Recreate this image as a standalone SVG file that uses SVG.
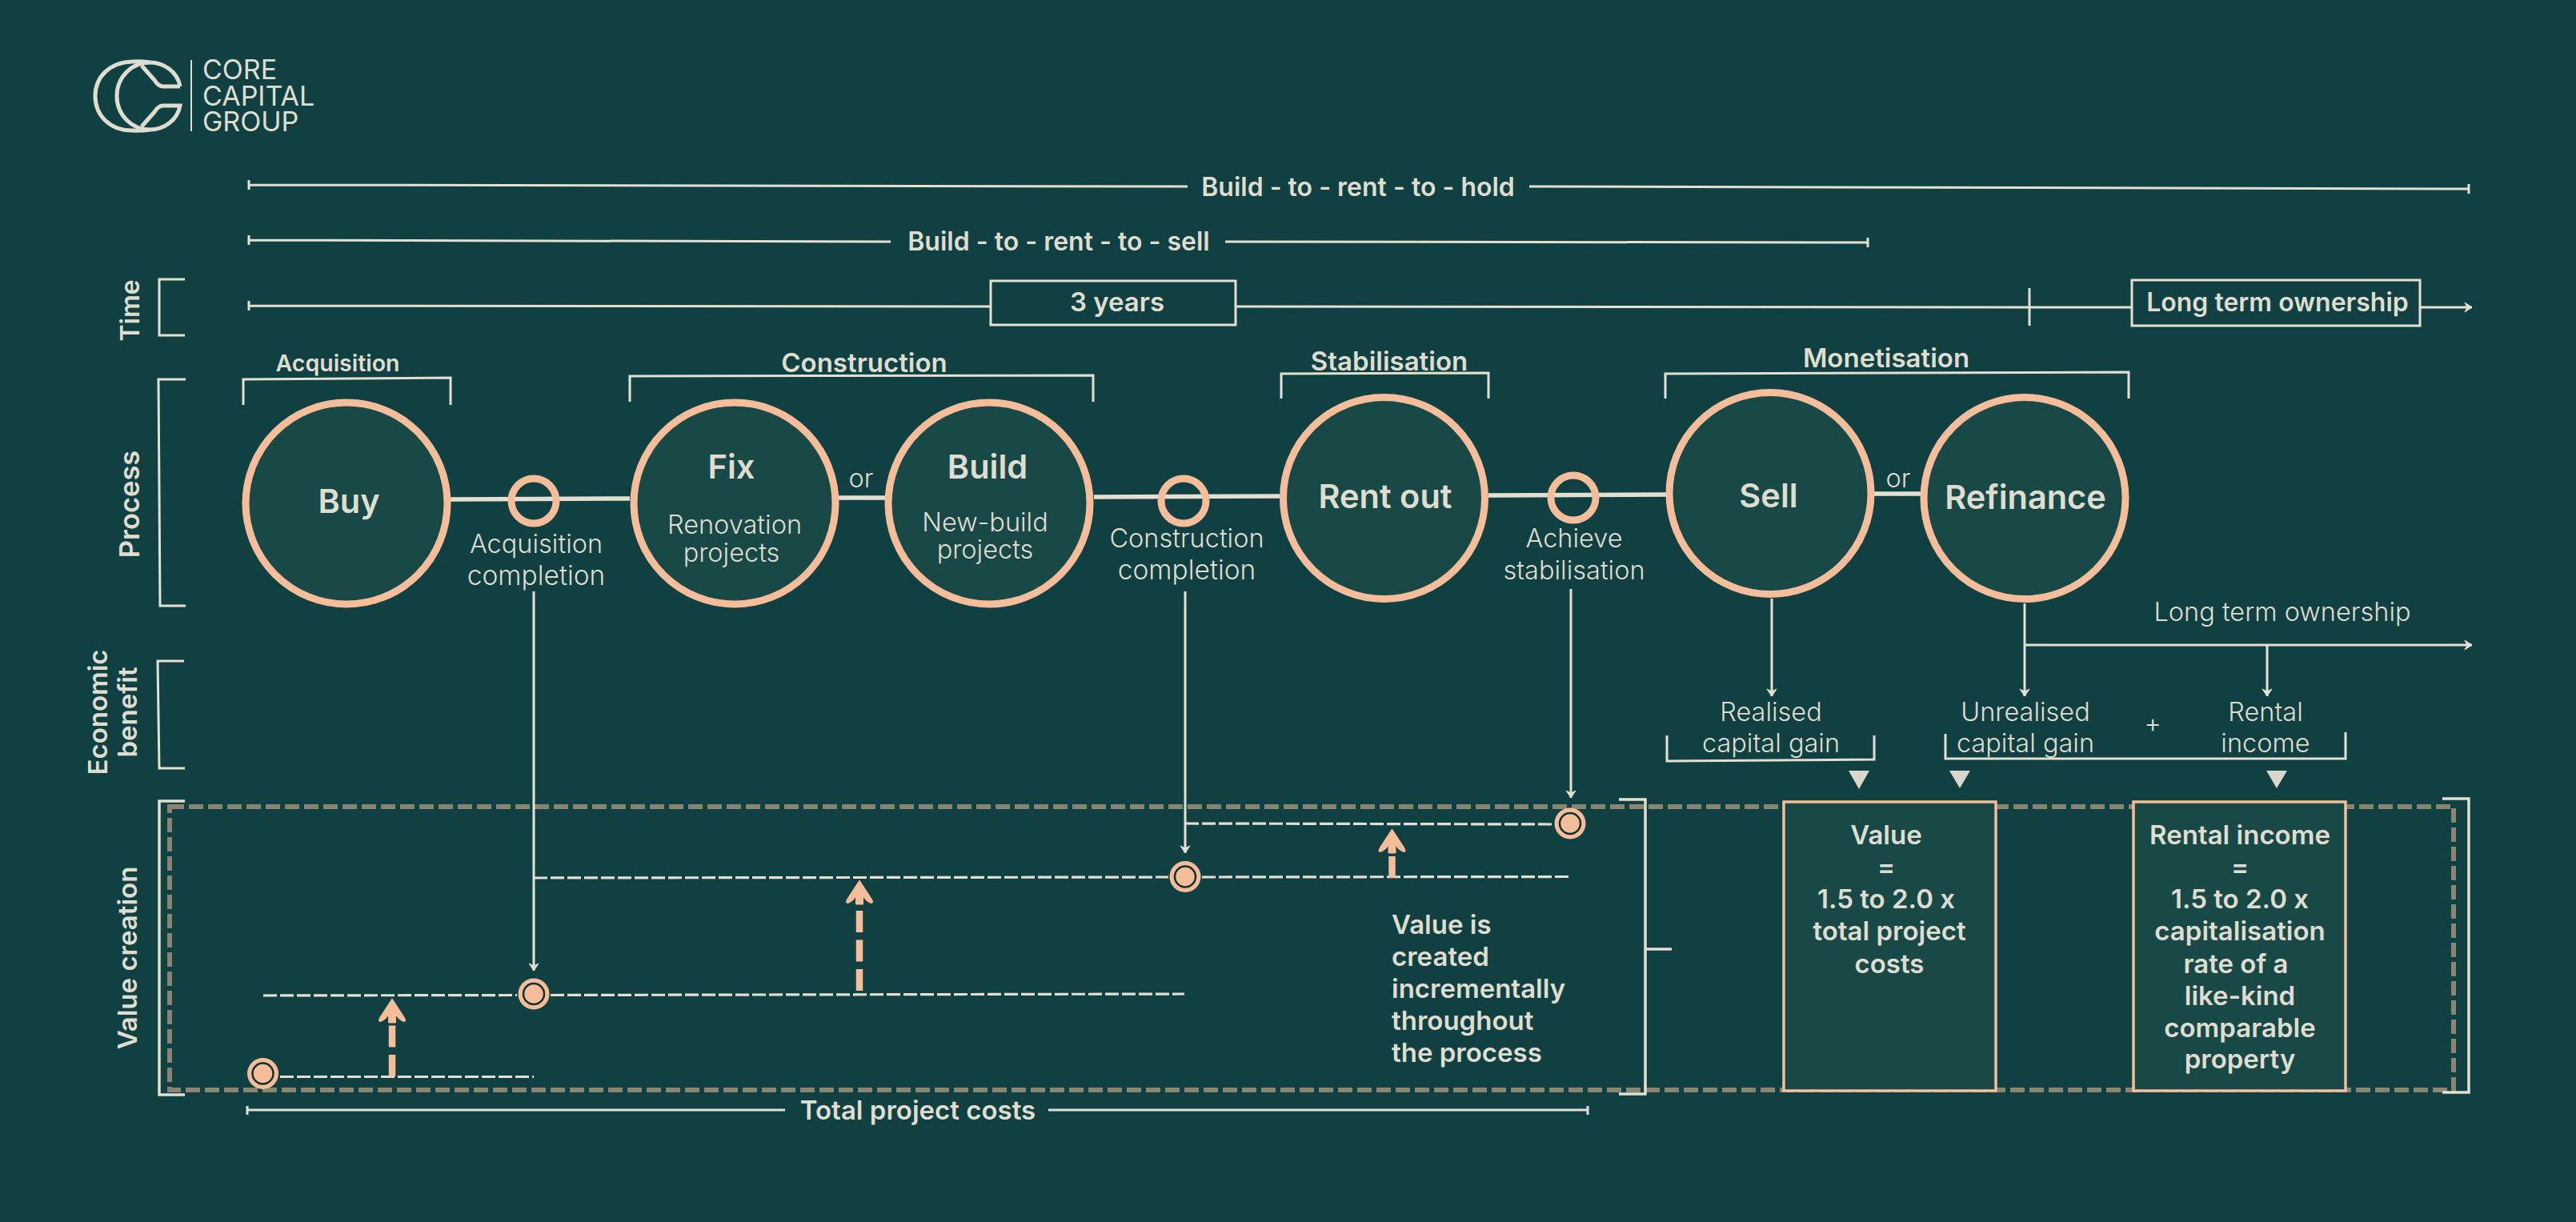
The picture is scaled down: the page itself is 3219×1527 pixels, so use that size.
<svg xmlns="http://www.w3.org/2000/svg" width="3219" height="1527" viewBox="0 0 3219 1527">
<style>
text{font-family:Inter,"Liberation Sans",sans-serif;fill:#dfddd0;text-anchor:middle}
.h{font-size:41.5px;font-weight:600}
.m{font-size:33px;font-weight:600}
.n{font-size:32px;font-weight:600}
.s{font-size:28.5px;font-weight:600}
.t{font-size:32.5px;font-weight:300}
.g{font-size:33.5px;font-weight:300}
.st{text-anchor:start}
.c{fill:#184947;stroke:#f5bd9a;stroke-width:9}
.d{fill:none;stroke:#f5bd9a;stroke-width:9}
.b{fill:#184947;stroke:#f5bd9a;stroke-width:3.5}
.l{fill:none;stroke:#e3e0d2;stroke-width:3}
.k{fill:none;stroke:#e3e0d2;stroke-width:5.5}
.a{fill:none;stroke:#e3e0d2;stroke-width:3;marker-end:url(#ah)}
.ds{fill:none;stroke:#e3e0d2;stroke-width:3.2;stroke-dasharray:17 4}
.pd{fill:none;stroke:#f5bd9a;stroke-width:8.5;stroke-dasharray:27 9.5}
.ph{fill:#f5bd9a;stroke:#f5bd9a;stroke-width:1;stroke-linejoin:round}
.dot{fill:#f5bd9a}
.din{fill:#f5bd9a;stroke:#10302f;stroke-width:2.5}
.tr{fill:#d9d7cb}
</style>
<defs>
<marker id="ah" markerUnits="userSpaceOnUse" markerWidth="20" markerHeight="20" refX="14" refY="10" orient="auto">
<path d="M5,4 L14,10 L5,16 L8,10 Z" fill="#e3e0d2" stroke="#e3e0d2" stroke-width="1" stroke-linejoin="round"/>
</marker>
<path id="hd" d="M0,0 L15,23 Q19,30 13,28 Q8,26 4.5,20 V30 H-4.5 V20 Q-8,26 -13,28 Q-19,30 -15,23 Z"/>
</defs>
<rect width="3219" height="1527" fill="#104041"/>

<g id="logo" fill="none" stroke="#dfddd0" stroke-width="5">
<path d="M225,108 C222,90 205,78 187,78 C165,78 146,96 146,120 C146,144 165,162 187,162 C205,162 222,150 225,132 L203,132 Q197,133 193,140 L177,158"/>
<path d="M225,108 L203,108 Q197,107 193,100 L177,82"/>
<path d="M187,78 Q175,76 165,77 C137,78 119,96 119,120 C119,144 137,163 165,163 Q175,164 187,162"/>
<path d="M239,75 V164" stroke-width="2"/>
<text class="g st" x="253" y="99" stroke="none" style="font-size:34px;font-weight:400">CORE</text>
<text class="g st" x="253" y="132" stroke="none" style="font-size:34px;font-weight:400">CAPITAL</text>
<text class="g st" x="253" y="164" stroke="none" style="font-size:34px;font-weight:400">GROUP</text>
</g>

<g id="row-labels">
<text class="n" transform="translate(174,388) rotate(-90)">Time</text>
<text class="m" transform="translate(174,630) rotate(-90)" style="font-size:34.5px">Process</text>
<text class="m" transform="translate(134,890) rotate(-90)">Economic</text>
<text class="m" transform="translate(171,890) rotate(-90)">benefit</text>
<text class="m" transform="translate(171,1197) rotate(-90)">Value creation</text>
<path class="l" d="M231,349 H199 V419 H231"/>
<path class="l" d="M232,474 H198 L200,757 H232"/>
<path class="l" d="M230,826 H197 L199,960 H231"/>
</g>

<g id="timeline">
<text class="n" x="1697" y="245">Build - to - rent - to - hold</text>
<path class="l" d="M311,225 V237 M311,231 L1484,233 M1911,233 L3085,236 M3085,230 V242"/>
<text class="n" x="1323" y="313">Build - to - rent - to - sell</text>
<path class="l" d="M311,294 V306 M311,300 L1113,302 M1531,302 L2334,303 M2334,297 V309"/>
<path class="l" d="M311,376 V388 M311,382 L1238,383 M1544,383 L2664,384"/>
<path class="l" d="M2536,360 V407"/>
<path class="a" d="M3024,384 H3089"/>
<g id="years"><rect class="l" x="1238" y="351" width="306" height="55"/><text class="m" x="1396" y="389">3 years</text></g>
<g id="long-term"><rect class="l" x="2664" y="350" width="360" height="57"/><text class="n" x="2846" y="389">Long term ownership</text></g>
</g>

<g id="phases">
<text class="s" x="422" y="464">Acquisition</text>
<path class="l" d="M304,506 V474 L563,472 V506"/>
<text class="m" x="1080" y="465">Construction</text>
<path class="l" d="M787,502 V470 L1366,469 V502"/>
<text class="m" x="1736" y="463">Stabilisation</text>
<path class="l" d="M1601,498 V467 L1860,466 V498"/>
<text class="m" x="2357" y="459">Monetisation</text>
<path class="l" d="M2081,498 V467 L2660,465 V498"/>
</g>

<g id="connectors">
<path class="k" d="M563,624 L787,623"/>
<path class="k" d="M1048,622 H1106"/>
<path class="k" d="M1367,621 L1599,620"/>
<path class="k" d="M1860,619 L2082,618"/>
<path class="k" d="M2342,617 H2400"/>
<path class="a" d="M2214,748 L2214,870"/>
<path class="a" d="M2530,754 V870"/>
<path class="a" d="M2530,806 H3089"/>
<path class="a" d="M2833,806 V870"/>
</g>

<g id="value-frame">
<rect x="212" y="1008" width="2854" height="354" fill="none" stroke="#8a8470" stroke-width="6" stroke-dasharray="18 6"/>
</g>

<g id="node-buy"><circle class="c" cx="433" cy="629" r="126"/><text class="h" x="436" y="641">Buy</text></g>
<g id="node-acq-done"><circle class="d" cx="667" cy="626" r="28"/><text class="t" x="670" y="691">Acquisition</text><text class="g" x="670" y="731">completion</text></g>
<g id="node-fix"><circle class="c" cx="918" cy="629" r="126"/><text class="h" x="914" y="598">Fix</text><text class="t" x="918" y="667">Renovation</text><text class="t" x="914" y="702">projects</text></g>
<text class="t" x="1076" y="609">or</text>
<g id="node-build"><circle class="c" cx="1236" cy="629" r="126"/><text class="h" x="1234" y="598">Build</text><text class="t" x="1231" y="664">New-build</text><text class="t" x="1231" y="698">projects</text></g>
<g id="node-con-done"><circle class="d" cx="1479" cy="626" r="28"/><text class="t" x="1483" y="684">Construction</text><text class="g" x="1483" y="724">completion</text></g>
<g id="node-rent"><circle class="c" cx="1729.5" cy="622.5" r="126"/><text class="h" x="1731" y="635">Rent out</text></g>
<g id="node-stab"><circle class="d" cx="1966" cy="622" r="28"/><text class="t" x="1967" y="684">Achieve</text><text class="t" x="1967" y="724">stabilisation</text></g>
<g id="node-sell"><circle class="c" cx="2212" cy="616.5" r="126"/><text class="h" x="2210" y="634">Sell</text></g>
<text class="t" x="2372" y="609">or</text>
<g id="node-refi"><circle class="c" cx="2530" cy="622.5" r="126"/><text class="h" x="2531" y="636">Refinance</text></g>

<g id="benefits">
<text class="t" x="2852" y="776">Long term ownership</text>
<text class="t" x="2213" y="901">Realised</text><text class="t" x="2213" y="940">capital gain</text>
<text class="t" x="2531" y="901">Unrealised</text><text class="t" x="2531" y="940">capital gain</text>
<text class="t" x="2690" y="915">+</text>
<text class="t" x="2831" y="901">Rental</text><text class="t" x="2831" y="940">income</text>
<path class="l" d="M2083,919 V951 L2342,949 V919"/>
<path class="l" d="M2431,917 V948 H2931 V915"/>
<path class="tr" d="M2310,963 H2336 L2323,986 Z"/>
<path class="tr" d="M2436,963 H2462 L2449,985 Z"/>
<path class="tr" d="M2832,963 H2858 L2845,985 Z"/>
</g>

<g id="value-lines">
<path class="a" d="M667,739 V1213"/>
<path class="a" d="M1481,739 V1066"/>
<path class="a" d="M1963,736 V997"/>
<path class="ds" d="M350,1345.5 H667"/>
<path class="ds" d="M329,1244 L646,1243.5 M688,1243.5 L1480,1242"/>
<path class="ds" d="M667,1097 L1460,1096 M1502,1096 L1962,1095.5"/>
<path class="ds" d="M1481,1029 L1940,1030"/>
<path class="pd" d="M490,1345 V1278"/>
<use href="#hd" class="ph" x="490" y="1248"/>
<path class="pd" d="M1074,1238 V1130"/>
<use href="#hd" class="ph" x="1074" y="1100"/>
<path class="pd" d="M1739.5,1097 V1066" stroke-dasharray="21 9"/>
<use href="#hd" class="ph" x="1739.5" y="1036"/>
<g id="dot-1"><circle class="dot" cx="328.5" cy="1341.5" r="19.5"/><circle class="din" cx="328.5" cy="1341.5" r="13"/></g>
<g id="dot-2"><circle class="dot" cx="667" cy="1242" r="19.5"/><circle class="din" cx="667" cy="1242" r="13"/></g>
<g id="dot-3"><circle class="dot" cx="1481" cy="1095.5" r="19.5"/><circle class="din" cx="1481" cy="1095.5" r="13"/></g>
<g id="dot-4"><circle class="dot" cx="1962" cy="1029" r="19.5"/><circle class="din" cx="1962" cy="1029" r="13"/></g>
<text class="m st" x="1739" y="1167">Value is</text>
<text class="m st" x="1739" y="1207">created</text>
<text class="m st" x="1739" y="1247">incrementally</text>
<text class="m st" x="1739" y="1287">throughout</text>
<text class="m st" x="1739" y="1327">the process</text>
</g>

<g id="brackets">
<path class="k" style="stroke-width:3.5" d="M231,1001 H199 V1368 H231"/>
<path class="k" style="stroke-width:3.5" d="M2023,999 H2056 V1367 H2023 M2056,1186 H2089"/>
<path class="k" style="stroke-width:3.5" d="M3052,998 H3085 V1365 H3052"/>
<path class="l" d="M309,1382 V1393 M309,1387 H981 M1310,1387 H1984 M1984,1382 V1393"/>
<text class="m" x="1147" y="1399">Total project costs</text>
</g>

<g id="box-value"><rect class="b" x="2229" y="1002" width="265" height="361"/>
<text class="m" x="2357" y="1055">Value</text><text class="m" x="2357" y="1095">=</text><text class="m" x="2357" y="1135">1.5 to 2.0 x</text><text class="m" x="2361" y="1175">total project</text><text class="m" x="2361" y="1216">costs</text></g>
<g id="box-rental"><rect class="b" x="2666" y="1002" width="265" height="361"/>
<text class="m" x="2799" y="1055">Rental income</text><text class="m" x="2799" y="1095">=</text><text class="m" x="2799" y="1135">1.5 to 2.0 x</text><text class="m" x="2799" y="1175">capitalisation</text><text class="m" x="2794" y="1216">rate of a</text><text class="m" x="2799" y="1256">like-kind</text><text class="m" x="2799" y="1296">comparable</text><text class="m" x="2799" y="1335">property</text></g>
</svg>
